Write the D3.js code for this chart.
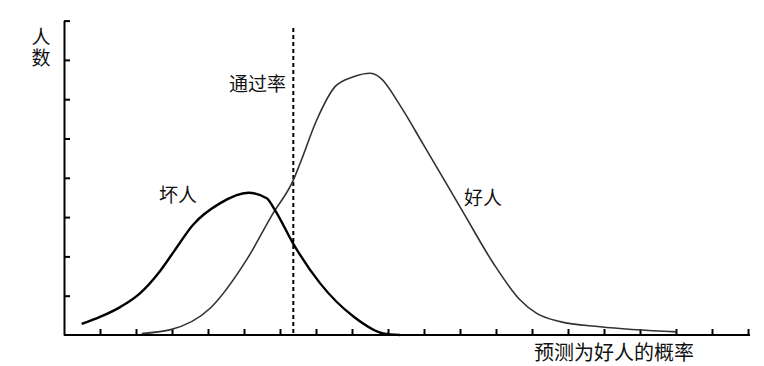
<!DOCTYPE html>
<html>
<head>
<meta charset="utf-8">
<script src="https://cdn.jsdelivr.net/npm/d3@7"></script>
<style>
    body { margin: 0; background: #fff; }
    text { font-family: "Noto Sans CJK SC", "Noto Sans", sans-serif; fill: #111; }
</style>
</head>
<body>
<div id="chart"></div>
<script>
// x is measured in tick steps along the axis, y in tick steps up the axis
var badX = [0.49, 1.0, 1.56, 2.11, 2.67, 3.08, 3.58, 4.33, 5.12, 5.63, 5.86, 6.37, 7.11, 8.04, 8.87, 9.33];
var badY = [0.28, 0.46, 0.71, 1.06, 1.63, 2.16, 2.80, 3.35, 3.62, 3.48, 3.18, 2.32, 1.32, 0.47, 0.04, 0.0];

var goodX = [2.16, 2.94, 4.06, 5.07, 5.81, 6.37, 6.56, 7.02, 7.53, 8.04, 8.5, 8.78, 9.33, 9.98, 11.09, 11.93, 12.67, 13.13, 13.78, 14.89, 17.02];
var goodY = [0.04, 0.13, 0.68, 1.91, 3.10, 3.94, 4.37, 5.47, 6.32, 6.57, 6.66, 6.55, 5.85, 4.85, 3.12, 1.82, 0.89, 0.55, 0.34, 0.21, 0.08];

var xTicks = d3.range(1, 20);
var yTicks = d3.range(1, 9);
var cutoff = 6.37;

var labelY = "人数";
var labelX = "预测为好人的概率";
var labelCut = "通过率";
var labelBad = "坏人";
var labelGood = "好人";

var width = 764, height = 366;

var svg = d3.select("#chart")
    .append("svg")
    .attr("width", width)
    .attr("height", height);

var x = d3.scaleLinear().domain([0, 19]).range([64, 748]);
var y = d3.scaleLinear().domain([0, 8]).range([335, 20.6]);

// axes, ticks point inside the plot
var xAxis = svg.append("g")
    .attr("transform", "translate(0," + y(0) + ")")
    .call(d3.axisBottom(x).tickValues(xTicks).tickSize(-6).tickSizeOuter(0).tickFormat(""));
xAxis.select(".domain").attr("d", "M" + x(0) + ",0H750");

var yAxis = svg.append("g")
    .attr("transform", "translate(" + x(0) + ",0)")
    .call(d3.axisLeft(y).tickValues(yTicks).tickSize(-6).tickSizeOuter(0).tickFormat(""));

svg.selectAll(".domain").attr("stroke", "#000").attr("stroke-width", 2);
svg.selectAll(".tick line").attr("stroke", "#000").attr("stroke-width", 2);

// dashed cutoff line
svg.append("line")
    .attr("x1", x(cutoff))
    .attr("x2", x(cutoff))
    .attr("y1", 28)
    .attr("y2", y(0))
    .attr("stroke", "#000")
    .attr("stroke-width", 2)
    .attr("stroke-dasharray", "4,3");

var line = d3.line()
    .x(function (d) { return x(d[0]); })
    .y(function (d) { return y(d[1]); })
    .curve(d3.curveMonotoneX);

svg.append("path")
    .datum(d3.zip(goodX, goodY))
    .attr("d", line)
    .attr("fill", "none")
    .attr("stroke", "#333")
    .attr("stroke-width", 1.6);

svg.append("path")
    .datum(d3.zip(badX, badY))
    .attr("d", line)
    .attr("fill", "none")
    .attr("stroke", "#000")
    .attr("stroke-width", 2.4);

// labels
svg.append("text")
    .attr("x", 41)
    .attr("y", 27)
    .attr("writing-mode", "vertical-rl")
    .style("font-size", "19px")
    .style("letter-spacing", "2px")
    .text(labelY);

svg.append("text")
    .attr("x", 286)
    .attr("y", 91)
    .attr("text-anchor", "end")
    .style("font-size", "19px")
    .text(labelCut);

svg.append("text")
    .attr("x", 159)
    .attr("y", 202)
    .style("font-size", "19px")
    .text(labelBad);

svg.append("text")
    .attr("x", 464)
    .attr("y", 205)
    .style("font-size", "19px")
    .text(labelGood);

svg.append("text")
    .attr("x", 534)
    .attr("y", 360)
    .style("font-size", "20px")
    .text(labelX);
</script>
</body>
</html>
